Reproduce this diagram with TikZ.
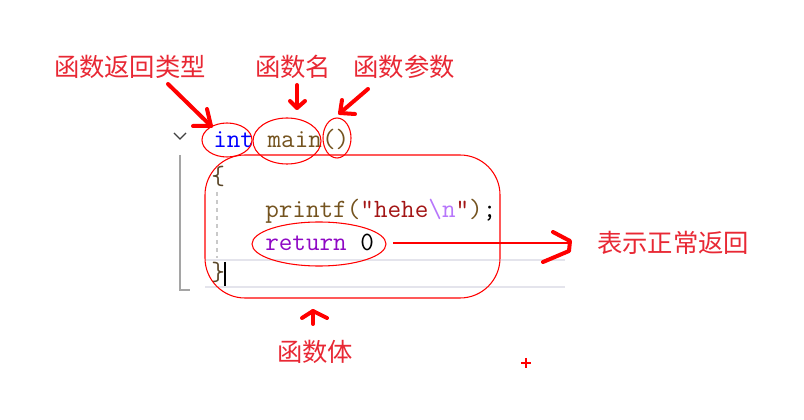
\documentclass[tikz,border=0pt]{standalone}
\usepackage{fontspec}
\newfontfamily\cjk{Noto Sans CJK SC}
\definecolor{labred}{RGB}{232,40,52}
\definecolor{kwblue}{RGB}{0,0,255}
\definecolor{fnbrown}{RGB}{116,83,31}
\definecolor{strred}{RGB}{163,21,21}
\definecolor{escpurple}{RGB}{183,118,251}
\definecolor{kwpurple}{RGB}{143,8,196}
\definecolor{guidegray}{RGB}{165,165,165}
\definecolor{hlgray}{RGB}{228,228,236}
\definecolor{bracecol}{RGB}{90,70,40}
\begin{document}
\begin{tikzpicture}[x=0.75pt,y=-0.75pt,
  lbl/.style={text=labred,font=\cjk\fontsize{19}{19}\selectfont,inner sep=0pt},
  code/.style={font=\ttfamily\fontsize{19.8}{20}\selectfont,inner sep=0pt,anchor=base west},
  ell/.style={draw=red,line width=0.8pt},
  hand/.style={draw=red,line width=3pt,line cap=round,line join=round}]
\useasboundingbox (0,0) rectangle (804,420);
% editor decorations
\draw[hlgray,line width=1.8pt] (205,260) -- (565,260);
\draw[hlgray,line width=1.8pt] (205,287) -- (565,287);
\draw[black!75,line width=1pt] (174,133) -- (180,139) -- (186,133);
\draw[guidegray,line width=1.3pt] (180,155) -- (180,290) -- (190,290);
\draw[guidegray!60,line width=1pt,dashed] (217,192) -- (217,258);
\draw[black,line width=1.5pt] (225,262) -- (225,286);
% code
\node[code] (sig) at (213,148) {{\color{kwblue}int} {\color{fnbrown}main()}};
\node[code,text=bracecol] (lb) at (211,185) {\{};
\node[code] (pr) at (265,218) {{\color{fnbrown}printf(}{\color{strred}"hehe}{\color{escpurple}\textbackslash n}{\color{strred}"}{\color{fnbrown})};};
\node[code] (rt0) at (265,251) {{\color{kwpurple}return} 0};
\node[code,text=bracecol] (rb) at (211,281) {\}};
% labels
\node[lbl] (rtype) at (130,67) {函数返回类型};
\node[lbl] (fname) at (293,67) {函数名};
\node[lbl] (fpar) at (404,67) {函数参数};
\node[lbl] (ret) at (673,243) {表示正常返回};
\node[lbl] (fbody) at (315,352) {函数体};
% ellipses
\draw[ell] (227,140) ellipse [x radius=25,y radius=17];
\draw[ell] (287,141) ellipse [x radius=34,y radius=23];
\draw[ell] (337,138) ellipse [x radius=14,y radius=20];
\draw[ell] (319,244) ellipse [x radius=67,y radius=22];
\draw[ell,rounded corners=30] (205,155) rectangle (500,298);
% arrows
\coordinate (a1s) at (168,84);
\coordinate (a1e) at (211,126);
\draw[hand] (a1s) -- (a1e);
\draw[hand] (193,126) -- (a1e) -- (207,109);
\coordinate (a2s) at (297,85);
\coordinate (a2e) at (297,108);
\draw[hand] (a2s) -- (a2e);
\draw[hand] (290,101) -- (a2e) -- (305,101);
\coordinate (a3s) at (368,89);
\coordinate (a3e) at (340,113);
\draw[hand] (a3s) -- (a3e);
\draw[hand] (355,114) -- (a3e) -- (342,100);
\coordinate (a4e) at (313,311);
\draw[hand] (313,324) -- (a4e);
\draw[hand] (302,318) -- (a4e) -- (327,318);
\coordinate (a5s) at (393,243);
\coordinate (a5e) at (571,243);
\draw[red,line width=1pt] (a5s) -- (a5e);
\draw[hand] (553,232) -- (570,241) -- (569,251) -- (543,262);
\draw[red,line width=1pt] (521,363) -- (531,363) (526,358) -- (526,368);
\end{tikzpicture}
\end{document}
